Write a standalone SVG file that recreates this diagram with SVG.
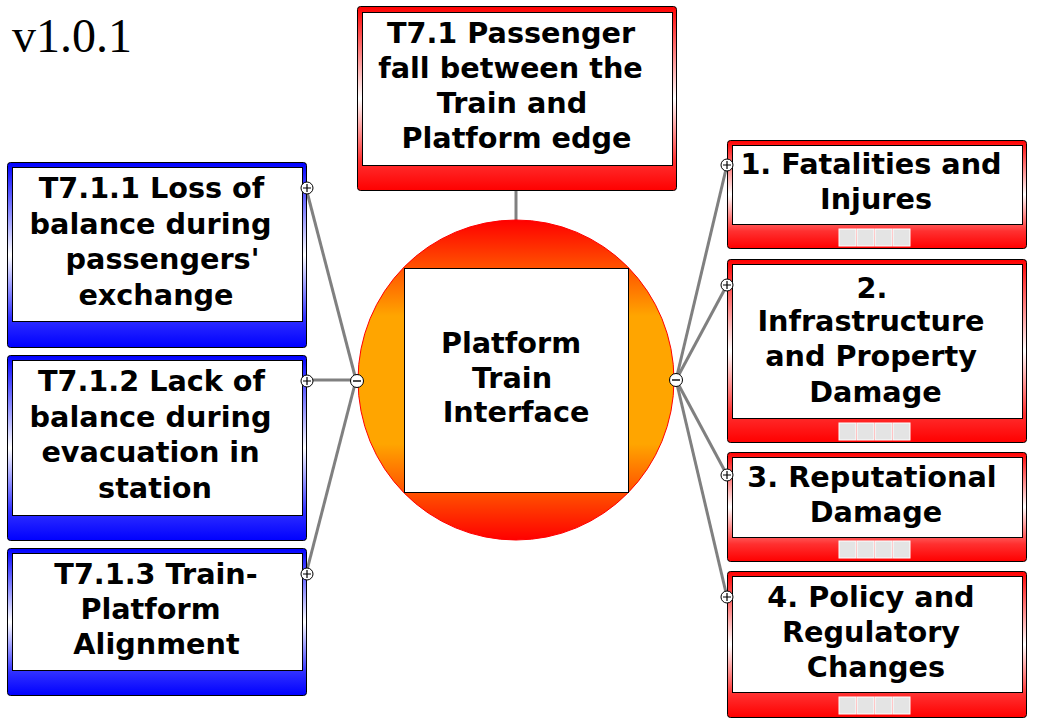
<svg xmlns="http://www.w3.org/2000/svg" width="1057" height="723" viewBox="0 0 1057 723">
<defs>
<linearGradient id="gRed" x1="0" y1="0" x2="0" y2="1">
<stop offset="0" stop-color="#FF0000"/>
<stop offset="0.5" stop-color="#FFFFFF"/>
<stop offset="0.84" stop-color="#FF3030"/>
<stop offset="1" stop-color="#FF0000"/>
</linearGradient>
<linearGradient id="gBlue" x1="0" y1="0" x2="0" y2="1">
<stop offset="0" stop-color="#0000FF"/>
<stop offset="0.5" stop-color="#FFFFFF"/>
<stop offset="0.84" stop-color="#3030FF"/>
<stop offset="1" stop-color="#0000FF"/>
</linearGradient>
<linearGradient id="gCircle" x1="0" y1="0" x2="0" y2="1">
<stop offset="0" stop-color="#FF0000"/>
<stop offset="0.3" stop-color="#FFA500"/>
<stop offset="0.7" stop-color="#FFA500"/>
<stop offset="1" stop-color="#FF0000"/>
</linearGradient>
<g id="plus">
<circle r="6" fill="#FFFFFF" stroke="#000000" stroke-width="1"/>
<path d="M-4,0H4M0,-4V4" stroke="#000000" stroke-width="1.2"/>
</g>
<g id="minus">
<circle r="6.5" fill="#FFFFFF" stroke="#000000" stroke-width="1"/>
<path d="M-4,0H4" stroke="#000000" stroke-width="1.4"/>
</g>
<g id="sq">
<rect x="0" y="0" width="17" height="17" fill="#E4E4E4" stroke="#FFFFFF" stroke-width="1"/>
<rect x="18" y="0" width="17" height="17" fill="#E4E4E4" stroke="#FFFFFF" stroke-width="1"/>
<rect x="36" y="0" width="17" height="17" fill="#E4E4E4" stroke="#FFFFFF" stroke-width="1"/>
<rect x="54" y="0" width="17" height="17" fill="#E4E4E4" stroke="#FFFFFF" stroke-width="1"/>
</g>
</defs>
<style>
.t{font-family:"DejaVu Sans",Verdana,sans-serif;font-weight:bold;font-size:28.7px;fill:#000000;text-anchor:middle}
.red{fill:url(#gRed);stroke:#000000;stroke-width:1}
.blue{fill:url(#gBlue);stroke:#000000;stroke-width:1}
.inner{fill:#FFFFFF;stroke:#000000;stroke-width:1}
.con{stroke:#808080;stroke-width:3;fill:none}
</style>
<rect width="1057" height="723" fill="#FFFFFF"/>
<text x="12" y="52" font-family="Liberation Serif,serif" font-size="48" fill="#000000">v1.0.1</text>

<g id="connectors">
<line class="con" x1="516" y1="190" x2="516" y2="222"/>
<line class="con" x1="306" y1="188" x2="356" y2="380"/>
<line class="con" x1="306" y1="380" x2="356" y2="380"/>
<line class="con" x1="306" y1="574" x2="356" y2="380"/>
<line class="con" x1="676" y1="380" x2="727" y2="165"/>
<line class="con" x1="676" y1="380" x2="727" y2="285"/>
<line class="con" x1="676" y1="380" x2="727" y2="475"/>
<line class="con" x1="676" y1="380" x2="727" y2="597"/>
</g>

<g id="center">
<ellipse cx="516" cy="380" rx="158" ry="160" fill="url(#gCircle)" stroke="#FF0000" stroke-width="1"/>
<rect class="inner" x="404.5" y="268.5" width="224" height="224"/>
<text class="t" x="511" y="353">Platform</text>
<text class="t" x="512" y="388">Train</text>
<text class="t" x="516" y="422">Interface</text>
</g>

<g id="top">
<rect class="red" x="357.5" y="6.5" width="319" height="184" rx="3"/>
<rect class="inner" x="362.5" y="12.5" width="310" height="153"/>
<text class="t" x="511" y="43">T7.1 Passenger</text>
<text class="t" x="510.5" y="78">fall between the</text>
<text class="t" x="512" y="113">Train and</text>
<text class="t" x="516.5" y="148">Platform edge</text>
</g>

<g id="left1">
<rect class="blue" x="7.5" y="162.5" width="299" height="185" rx="3"/>
<rect class="inner" x="12.5" y="167.5" width="290" height="154"/>
<text class="t" x="151.5" y="198">T7.1.1 Loss of</text>
<text class="t" x="150.5" y="234">balance during</text>
<text class="t" x="162.5" y="269">passengers'</text>
<text class="t" x="156" y="305">exchange</text>
</g>

<g id="left2">
<rect class="blue" x="7.5" y="355.5" width="299" height="185" rx="3"/>
<rect class="inner" x="12.5" y="360.5" width="290" height="155"/>
<text class="t" x="151.5" y="391">T7.1.2 Lack of</text>
<text class="t" x="150.5" y="427">balance during</text>
<text class="t" x="150.5" y="462">evacuation in</text>
<text class="t" x="155" y="498">station</text>
</g>

<g id="left3">
<rect class="blue" x="7.5" y="548.5" width="299" height="147" rx="3"/>
<rect class="inner" x="12.5" y="553.5" width="290" height="117"/>
<text class="t" x="156" y="584">T7.1.3 Train-</text>
<text class="t" x="150.5" y="619">Platform</text>
<text class="t" x="156.5" y="654">Alignment</text>
</g>

<g id="right1">
<rect class="red" x="727.5" y="140.5" width="299" height="108" rx="3"/>
<rect class="inner" x="732.5" y="145.5" width="290" height="79"/>
<text class="t" x="871" y="174">1. Fatalities and</text>
<text class="t" x="876" y="209">Injures</text>
<use href="#sq" x="839" y="229"/>
</g>

<g id="right2">
<rect class="red" x="727.5" y="259.5" width="299" height="183" rx="3"/>
<rect class="inner" x="732.5" y="264.5" width="290" height="154"/>
<text class="t" x="872" y="298">2.</text>
<text class="t" x="871" y="331">Infrastructure</text>
<text class="t" x="871" y="366">and Property</text>
<text class="t" x="875.5" y="402">Damage</text>
<use href="#sq" x="839" y="423"/>
</g>

<g id="right3">
<rect class="red" x="727.5" y="452.5" width="299" height="109" rx="3"/>
<rect class="inner" x="732.5" y="457.5" width="290" height="80"/>
<text class="t" x="872" y="487">3. Reputational</text>
<text class="t" x="876" y="522">Damage</text>
<use href="#sq" x="839" y="541"/>
</g>

<g id="right4">
<rect class="red" x="727.5" y="571.5" width="299" height="146" rx="3"/>
<rect class="inner" x="732.5" y="576.5" width="290" height="116"/>
<text class="t" x="871" y="607">4. Policy and</text>
<text class="t" x="871" y="642">Regulatory</text>
<text class="t" x="876" y="677">Changes</text>
<use href="#sq" x="839" y="697"/>
</g>

<g id="markers">
<use href="#plus" x="307" y="188"/>
<use href="#plus" x="307" y="381"/>
<use href="#plus" x="307" y="574"/>
<use href="#minus" x="357" y="381"/>
<use href="#minus" x="676" y="380"/>
<use href="#plus" x="727" y="165"/>
<use href="#plus" x="727" y="285"/>
<use href="#plus" x="727" y="475"/>
<use href="#plus" x="727" y="597"/>
</g>
</svg>
